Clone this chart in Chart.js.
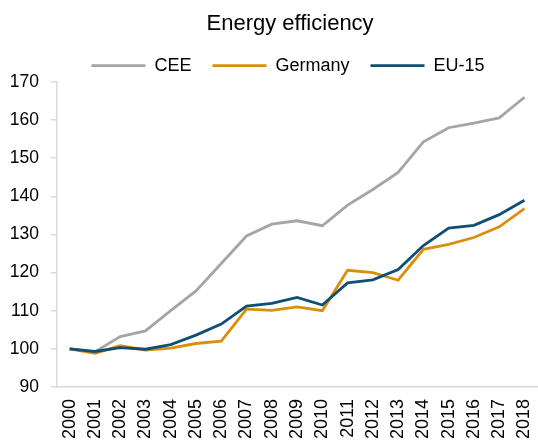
<!DOCTYPE html>
<html>
<head>
<meta charset="utf-8">
<script src="https://cdn.jsdelivr.net/npm/chart.js@4/dist/chart.umd.min.js"></script>
<style>
  html, body { margin: 0; padding: 0; background: #ffffff; }
  #wrap { width: 538px; height: 443px; position: relative; }
</style>
</head>
<body>
<div id="wrap"><canvas id="c"></canvas></div>
<script>
const years = ["2000","2001","2002","2003","2004","2005","2006","2007","2008","2009","2010","2011","2012","2013","2014","2015","2016","2017","2018"];
const cee = [100, 99.2, 103.2, 104.7, 110.0, 115.2, 122.4, 129.6, 132.7, 133.6, 132.3, 137.7, 141.8, 146.3, 154.3, 158.0, 159.2, 160.6, 166.0];
const germany = [100, 98.8, 100.8, 99.7, 100.2, 101.4, 102.0, 110.4, 110.1, 111.0, 110.0, 120.6, 120.0, 118.0, 126.1, 127.4, 129.2, 132.0, 136.8];
const eu15 = [100, 99.3, 100.3, 99.9, 101.1, 103.6, 106.5, 111.2, 111.9, 113.5, 111.5, 117.3, 118.1, 120.8, 127.1, 131.7, 132.4, 135.2, 139.0];
const yTicks = [90, 100, 110, 120, 130, 140, 150, 160, 170];
const titleText = "Energy efficiency";

const shiftPlugin = {
  id: 'shiftBlocks',
  afterLayout(chart) {
    if (chart.titleBlock) { chart.titleBlock.left -= 7; chart.titleBlock.right -= 7; }
    if (chart.legend) { chart.legend.left += 14; chart.legend.right += 14; }
  }
};

new Chart(document.getElementById('c'), {
  type: 'line',
  data: {
    labels: years,
    datasets: [
      { label: 'CEE', data: cee, order: 3, borderColor: '#a5a5a5', backgroundColor: '#a5a5a5', borderWidth: 2.8, pointRadius: 0, tension: 0 },
      { label: 'Germany', data: germany, order: 2, borderColor: '#db8e0b', backgroundColor: '#db8e0b', borderWidth: 2.8, pointRadius: 0, tension: 0 },
      { label: 'EU-15', data: eu15, order: 1, borderColor: '#0e4f76', backgroundColor: '#0e4f76', borderWidth: 2.8, pointRadius: 0, tension: 0 }
    ]
  },
  options: {
    responsive: true,
    maintainAspectRatio: false,
    animation: false,
    layout: { padding: { left: 10, right: 0, top: 0, bottom: 4 } },
    plugins: {
      title: {
        display: true,
        text: titleText,
        fullSize: false,
        color: '#000000',
        font: { family: 'Liberation Sans, Arial, sans-serif', size: 22, weight: 'normal', lineHeight: 0.6 },
        padding: { top: 17.4, bottom: 5 }
      },
      legend: {
        display: true,
        position: 'top',
        fullSize: true,
        maxHeight: 46.4,
        labels: {
          color: '#000000',
          font: { family: 'Liberation Sans, Arial, sans-serif', size: 18 },
          boxWidth: 54,
          boxHeight: 0,
          padding: 21,
          sort: (a, b) => a.datasetIndex - b.datasetIndex
        }
      },
      tooltip: { enabled: false }
    },
    scales: {
      x: {
        offset: true,
        grid: { display: true, drawOnChartArea: false, drawTicks: true, tickLength: 12, color: 'rgba(0,0,0,0)' },
        border: { display: true, color: '#d9d9d9', width: 1.5 },
        ticks: {
          autoSkip: false,
          minRotation: 90,
          maxRotation: 90,
          padding: 0,
          color: '#000000',
          font: { family: 'Liberation Sans, Arial, sans-serif', size: 18, lineHeight: 0.75 }
        }
      },
      y: {
        min: yTicks[0],
        max: yTicks[yTicks.length - 1],
        afterFit(scale) { scale.width = 47; },
        grid: { drawOnChartArea: false, drawTicks: true, tickLength: 6, color: '#d9d9d9', lineWidth: 1.5 },
        border: { display: true, color: '#d9d9d9', width: 1.5 },
        ticks: {
          stepSize: 10,
          padding: 12,
          color: '#000000',
          font: { family: 'Liberation Sans, Arial, sans-serif', size: 17.5 }
        }
      }
    }
  },
  plugins: [shiftPlugin]
});
</script>
</body>
</html>
